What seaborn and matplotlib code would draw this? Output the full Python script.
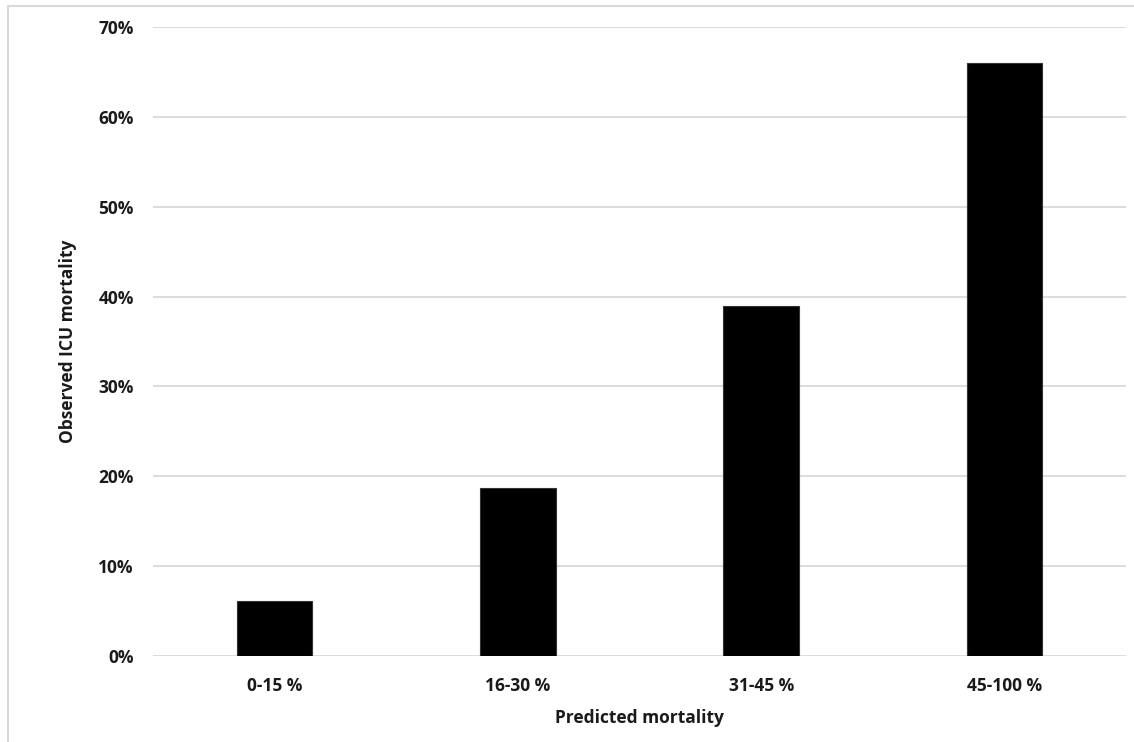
import pandas as pd
import matplotlib
matplotlib.use("Agg")
import matplotlib.pyplot as plt
import seaborn as sns
from matplotlib.lines import Line2D
from matplotlib.ticker import FuncFormatter

# ==========================================
# DATA
# ==========================================

categories = ["0-15 %", "16-30 %", "31-45 %", "45-100 %"]
observed = [6.15, 18.7, 38.9, 66.0]
y_ticks = [0, 10, 20, 30, 40, 50, 60, 70]

df = pd.DataFrame({"Predicted mortality": categories, "Observed": observed})

# ==========================================
# STYLE
# ==========================================

sns.set_theme(style="white")
plt.rcParams["font.family"] = ["Open Sans", "DejaVu Sans"]
plt.rcParams["font.weight"] = "bold"
plt.rcParams["axes.labelweight"] = "bold"

GRID = "#d9d9d9"
TEXT = "#1a1a1a"
FS = 12.5

fig = plt.figure(figsize=(11.34, 7.42), dpi=100)
ax = fig.add_axes([0.135, 0.116, 0.858, 0.8476])

sns.barplot(
    data=df,
    x="Predicted mortality",
    y="Observed",
    color="black",
    width=0.31,
    edgecolor="#333333",
    linewidth=0.8,
    ax=ax,
    zorder=3,
)

ax.set_ylim(0, 70)
ax.set_xlim(-0.5, len(categories) - 0.5)
ax.set_yticks(y_ticks)
ax.yaxis.set_major_formatter(FuncFormatter(lambda v, p: f"{v:.0f}%"))
ax.grid(axis="y", color=GRID, linewidth=1.3, zorder=0)
ax.set_axisbelow(True)

for s in ax.spines.values():
    s.set_visible(False)

ax.tick_params(axis="both", length=0, labelsize=FS, labelcolor=TEXT)
ax.tick_params(axis="y", pad=14)
ax.tick_params(axis="x", pad=15)

ax.set_xlabel("Predicted mortality", fontsize=FS, fontweight="bold",
              color=TEXT, labelpad=10)
ax.set_ylabel("Observed ICU mortality", fontsize=FS, fontweight="bold",
              color=TEXT, labelpad=15)

# outer frame (left and top edges visible in the reference)
fig.add_artist(Line2D([8 / 1134, 8 / 1134], [0, 1 - 6 / 742],
                      transform=fig.transFigure, color=GRID, linewidth=1.5))
fig.add_artist(Line2D([8 / 1134, 1], [1 - 6 / 742, 1 - 6 / 742],
                      transform=fig.transFigure, color=GRID, linewidth=1.5))

fig.savefig("out.png", dpi=100)
plt.close()
